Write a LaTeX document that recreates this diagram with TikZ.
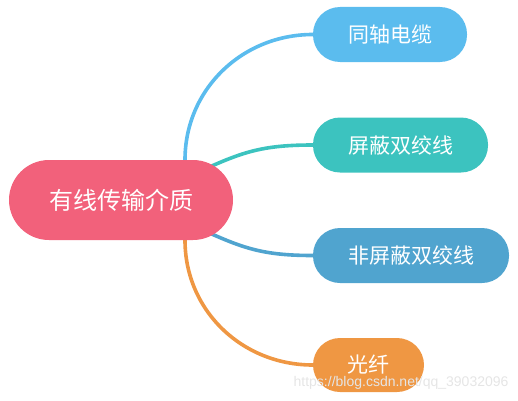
\documentclass[tikz,border=0pt]{standalone}
\usepackage{fontspec}
\setmainfont{Noto Sans CJK SC}
\newfontfamily\wmfont{Liberation Sans}
\usetikzlibrary{backgrounds}

\definecolor{rootred}{HTML}{F2617B}
\definecolor{coaxblue}{HTML}{5BBCEE}
\definecolor{stpteal}{HTML}{3CC3BF}
\definecolor{utpblue}{HTML}{50A4CF}
\definecolor{fiberorange}{HTML}{EF9743}

\begin{document}
\begin{tikzpicture}[
  x=1pt, y=1pt,
  pill/.style={rectangle, rounded corners=27pt, minimum height=55pt, inner sep=0pt,
    text=white, font=\fontsize{21}{21}\selectfont},
  branch/.style={line width=3.6pt, line cap=round}
  ]
  \useasboundingbox (0,0) rectangle (518,400);

  \node[pill, fill=rootred, minimum width=224pt, minimum height=80pt, rounded corners=40pt,
    font=\fontsize{24}{24}\selectfont] (root) at (121,200) {有线传输介质};
  \node[pill, fill=coaxblue, minimum width=154pt] (coax) at (390,365.5) {同轴电缆};
  \node[pill, fill=stpteal, minimum width=175pt] (stp) at (400.5,255) {屏蔽双绞线};
  \node[pill, fill=utpblue, minimum width=196pt] (utp) at (411,144.5) {非屏蔽双绞线};
  \node[pill, fill=fiberorange, minimum width=111pt, minimum height=54pt] (fiber) at (368.5,35) {光纤};

  \begin{scope}[on background layer]
    \draw[branch, coaxblue] ([xshift=64pt]root.north) .. controls +(0,70) and +(-71,0) .. (coax.west);
    \draw[branch, stpteal] ([xshift=-30pt,yshift=-10pt]root.north east) .. controls +(40,18) and +(-50,0) .. (stp.west);
    \draw[branch, utpblue] ([xshift=-30pt,yshift=10pt]root.south east) .. controls +(40,-18) and +(-50,0) .. (utp.west);
    \draw[branch, fiberorange] ([xshift=64pt]root.south) .. controls +(0,-70) and +(-71,0) .. (fiber.west);
  \end{scope}

  % watermark
  \node[font=\wmfont\fontsize{14}{14}\selectfont, text=white!80!gray, anchor=east] (mark) at (512,17) {https://blog.csdn.net/qq\_39032096};
\end{tikzpicture}
\end{document}
